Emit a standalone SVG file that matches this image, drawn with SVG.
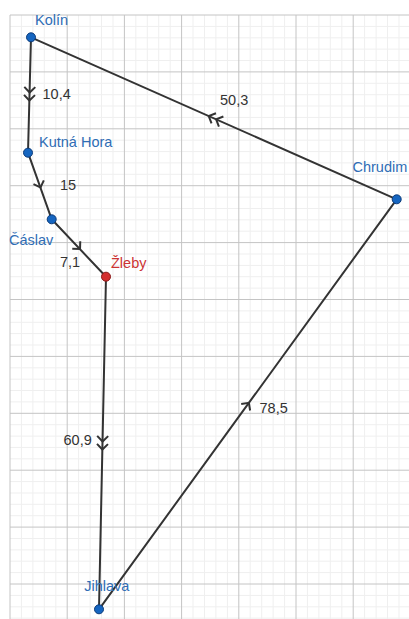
<svg xmlns="http://www.w3.org/2000/svg" width="409" height="619" viewBox="0 0 409 619">
<style>
.minor{stroke:#efefef;stroke-width:1;fill:none}
.major{stroke:#c4c4c4;stroke-width:1;fill:none}
.seg{stroke:#333;stroke-width:2;fill:none;stroke-linecap:round}
.lbl{font-family:"Liberation Sans",Arial,sans-serif;font-size:14.5px}
.city{fill:#2f6db5}
.edge{fill:#333}
.pt{fill:#1565c0;stroke:#0d3c7a;stroke-width:1}
.ptr{fill:#d32f2f;stroke:#8b1a1a;stroke-width:1}
</style>
<defs>
<path id="chev" d="M-4,-5.5 L1.5,0 L-4,5.5" fill="none" stroke="#333" stroke-width="2" stroke-linejoin="miter"/>
</defs>
<rect width="409" height="619" fill="#fff"/>
<g id="grid">
<path class="minor" d="M21.4 15V619M32.9 15V619M44.3 15V619M55.8 15V619M78.6 15V619M90.1 15V619M101.5 15V619M113 15V619M135.8 15V619M147.3 15V619M158.7 15V619M170.2 15V619M193 15V619M204.5 15V619M215.9 15V619M227.4 15V619M250.2 15V619M261.7 15V619M273.1 15V619M284.6 15V619M307.4 15V619M318.9 15V619M330.3 15V619M341.8 15V619M364.6 15V619M376.1 15V619M387.5 15V619M399 15V619
M10 26.4H409M10 37.8H409M10 49.1H409M10 60.5H409M10 83.3H409M10 94.7H409M10 106H409M10 117.4H409M10 140.2H409M10 151.6H409M10 162.9H409M10 174.3H409M10 197.1H409M10 208.5H409M10 219.8H409M10 231.2H409M10 254H409M10 265.4H409M10 276.7H409M10 288.1H409M10 310.9H409M10 322.3H409M10 333.6H409M10 345H409M10 367.8H409M10 379.2H409M10 390.5H409M10 401.9H409M10 424.7H409M10 436.1H409M10 447.4H409M10 458.8H409M10 481.6H409M10 493H409M10 504.3H409M10 515.7H409M10 538.5H409M10 549.9H409M10 561.2H409M10 572.6H409M10 595.4H409M10 606.8H409M10 618.1H409"/>
<path class="major" d="M10 15V619M67.2 15V619M124.4 15V619M181.6 15V619M238.8 15V619M296 15V619M353.2 15V619
M10 15H409M10 71.9H409M10 128.8H409M10 185.7H409M10 242.6H409M10 299.5H409M10 356.4H409M10 413.3H409M10 470.2H409M10 527.1H409M10 584H409"/>
</g>
<g id="connectors">
<path class="seg" d="M31 37.3L28 152.7"/>
<path class="seg" d="M28 152.7L51.7 219.3"/>
<path class="seg" d="M51.7 219.3L106 276.7"/>
<path class="seg" d="M106 276.7L99 609.3"/>
<path class="seg" d="M99 609.3L396.7 199.3"/>
<path class="seg" d="M396.7 199.3L31 37.3"/>
<use href="#chev" transform="translate(29.7,91) rotate(91.5)"/>
<use href="#chev" transform="translate(29.4,99) rotate(91.5)"/>
<use href="#chev" transform="translate(40,186) rotate(70.4)"/>
<use href="#chev" transform="translate(79,248) rotate(46.6)"/>
<use href="#chev" transform="translate(102.6,440) rotate(91.2)"/>
<use href="#chev" transform="translate(102.4,448) rotate(91.2)"/>
<use href="#chev" transform="translate(248,404) rotate(-54)"/>
<use href="#chev" transform="translate(217.5,119.9) rotate(203.9)"/>
<use href="#chev" transform="translate(210.1,116.7) rotate(203.9)"/>
<text class="lbl edge" x="42.5" y="99">10,4</text>
<text class="lbl edge" x="60" y="189.5">15</text>
<text class="lbl edge" x="60" y="266.5">7,1</text>
<text class="lbl edge" x="220" y="104.5">50,3</text>
<text class="lbl edge" x="63.5" y="444.5">60,9</text>
<text class="lbl edge" x="259.5" y="412.5">78,5</text>
</g>
<g id="kolin">
<circle class="pt" cx="31" cy="37.3" r="4.5"/>
<text class="lbl city" x="35" y="25">Kolín</text>
</g>
<g id="kutna-hora">
<circle class="pt" cx="28" cy="152.7" r="4.5"/>
<text class="lbl city" x="39" y="147.3">Kutná Hora</text>
</g>
<g id="caslav">
<circle class="pt" cx="51.7" cy="219.3" r="4.5"/>
<text class="lbl city" x="9" y="245">Čáslav</text>
</g>
<g id="zleby">
<circle class="ptr" cx="106" cy="276.7" r="4.5"/>
<text class="lbl" x="111" y="268" fill="#cc3333">Žleby</text>
</g>
<g id="chrudim">
<circle class="pt" cx="396.7" cy="199.3" r="4.5"/>
<text class="lbl city" x="352.5" y="171.7">Chrudim</text>
</g>
<g id="jihlava">
<circle class="pt" cx="99" cy="609.3" r="4.5"/>
<text class="lbl city" x="84.3" y="590.7">Jihlava</text>
</g>
</svg>
